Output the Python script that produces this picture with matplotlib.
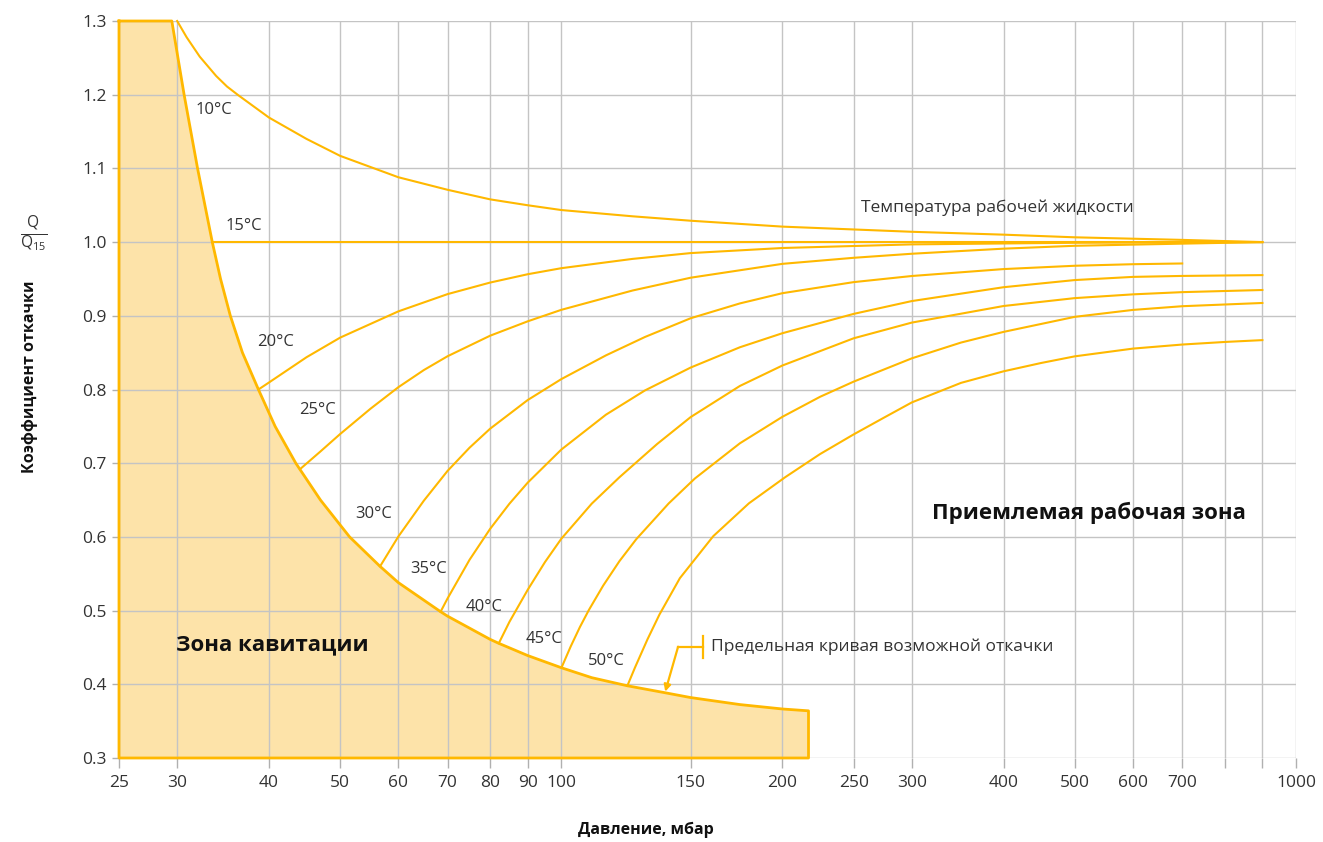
import numpy as np
import matplotlib.pyplot as plt

plt.rcParams['font.family'] = ['Open Sans', 'DejaVu Sans']
plt.rcParams['mathtext.fontset'] = 'custom'
plt.rcParams['mathtext.rm'] = 'Open Sans'
plt.rcParams['mathtext.it'] = 'Open Sans'

# x ticks (pressure, mbar)
xticks = [25, 30, 40, 50, 60, 70, 80, 90, 100, 150, 200, 250, 300, 400, 500, 600, 700, 800, 900, 1000]
xlabels = ['25', '30', '40', '50', '60', '70', '80', '90', '100', '150', '200', '250', '300',
           '400', '500', '600', '700', '', '', '1000']
yticks = [0.3, 0.4, 0.5, 0.6, 0.7, 0.8, 0.9, 1.0, 1.1, 1.2, 1.3]

# limit curve (cavitation boundary)
lim_x = [29.5, 30.66, 31.98, 33.49, 34.37, 35.44, 36.81, 38.7, 40.78, 43.51, 47.01, 51.5, 56.66,
         60, 68.5, 70, 80, 82.2, 90, 100, 110, 123, 138.5, 150, 175, 200, 217]
lim_y = [1.3, 1.2, 1.1, 1.0, 0.95, 0.9, 0.85, 0.8, 0.75, 0.7, 0.65, 0.6, 0.56, 0.538, 0.4985,
         0.4925, 0.461, 0.4556, 0.439, 0.4225, 0.409, 0.398, 0.3885, 0.382, 0.3725, 0.3665, 0.364]

# temperature curves
t10_x = [30, 30.9, 32.2, 33.9, 35.07, 36.3, 40, 45, 50, 60, 70, 80, 90, 100, 125, 150, 200, 300,
         400, 500, 700, 900]
t10_y = [1.3, 1.278, 1.2516, 1.2254, 1.2111, 1.1996, 1.169, 1.14, 1.117, 1.088, 1.071, 1.058,
         1.05, 1.0435, 1.035, 1.029, 1.021, 1.014, 1.0101, 1.0065, 1.003, 1.0]
t15_x = [33.49, 900]
t15_y = [1.0, 1.0]
t20_x = [38.7, 40, 45, 50, 60, 70, 80, 90, 100, 125, 150, 200, 300, 500, 900]
t20_y = [0.80, 0.8095, 0.8438, 0.8704, 0.906, 0.9294, 0.9451, 0.9564, 0.9646, 0.9772, 0.9851,
         0.992, 0.9969, 0.9991, 1.0]
t25_x = [44.1, 47, 50, 55, 60, 65, 70, 80, 90, 100, 125, 150, 200, 250, 300, 400, 500, 700, 900]
t25_y = [0.692, 0.7159, 0.7396, 0.774, 0.8031, 0.8264, 0.8451, 0.873, 0.8925, 0.9081, 0.9343,
         0.9517, 0.9705, 0.9787, 0.9842, 0.9911, 0.995, 0.9979, 1.0]
t30_x = [56.66, 60, 65, 70, 75, 80, 90, 100, 115, 130, 150, 175, 200, 250, 300, 400, 500, 600, 700]
t30_y = [0.560, 0.6005, 0.6492, 0.6895, 0.721, 0.7468, 0.7857, 0.8141, 0.8463, 0.8713, 0.8967,
         0.9168, 0.9307, 0.9457, 0.954, 0.9634, 0.9679, 0.970, 0.971]
t35_x = [68.5, 70, 75, 80, 85, 90, 100, 115, 130, 150, 175, 200, 250, 300, 400, 500, 600, 700, 900]
t35_y = [0.4985, 0.5164, 0.5689, 0.6109, 0.6451, 0.6736, 0.7185, 0.7658, 0.7988, 0.8298, 0.8573,
         0.8764, 0.9026, 0.92, 0.9388, 0.9485, 0.9528, 0.9541, 0.9552]
t40_x = [82.2, 85, 90, 95, 100, 110, 120, 135, 150, 175, 200, 250, 300, 400, 500, 600, 700, 900]
t40_y = [0.4556, 0.4848, 0.5282, 0.5658, 0.5975, 0.6451, 0.681, 0.726, 0.7626, 0.8048, 0.8326,
         0.8695, 0.8908, 0.9133, 0.924, 0.9291, 0.9321, 0.935]
t45_x = [100.1, 103, 106, 109, 114, 120, 126.5, 140, 152, 175, 200, 225, 250, 300, 350, 400, 500,
         600, 700, 900]
t45_y = [0.423, 0.4515, 0.4777, 0.5007, 0.5338, 0.5672, 0.597, 0.6454, 0.6793, 0.727, 0.763,
         0.7901, 0.8107, 0.8423, 0.8637, 0.8782, 0.8986, 0.908, 0.913, 0.9174]
t50_x = [123, 126, 131, 136, 145, 161, 180, 201.7, 225, 250, 275, 300, 350, 400, 450, 500, 600,
         700, 800, 900]
t50_y = [0.398, 0.423, 0.461, 0.4946, 0.544, 0.601, 0.6455, 0.681, 0.7124, 0.7391, 0.7619,
         0.7825, 0.809, 0.8247, 0.836, 0.845, 0.8555, 0.861, 0.8645, 0.867]

curves = [(t10_x, t10_y), (t15_x, t15_y), (t20_x, t20_y), (t25_x, t25_y), (t30_x, t30_y),
          (t35_x, t35_y), (t40_x, t40_y), (t45_x, t45_y), (t50_x, t50_y)]

temp_labels = ['10°C', '15°C', '20°C', '25°C', '30°C', '35°C', '40°C', '45°C', '50°C']
label_x = [31.8, 34.9, 38.6, 43.9, 52.4, 62.3, 74.2, 89.3, 108.7]
label_y = [1.179, 1.022, 0.864, 0.772, 0.631, 0.5565, 0.505, 0.4614, 0.4316]

gold = '#FFB800'
fill_col = '#FDE3A9'
txt = '#333333'

fig = plt.figure(figsize=(13.23, 8.42), dpi=100)
ax = fig.add_axes([119 / 1323, 1 - 758 / 842, (1296 - 119) / 1323, (758 - 21) / 842])

ax.set_xscale('log')
ax.set_xlim(25, 1000)
ax.set_ylim(0.3, 1.3)

# cavitation zone
poly_x = [25] + lim_x + [lim_x[-1], 25]
poly_y = [1.3] + lim_y + [0.3, 0.3]
ax.fill(poly_x, poly_y, color=fill_col, lw=0, zorder=1)
ax.plot(poly_x + [25], poly_y + [1.3], color=gold, lw=2, zorder=3, clip_on=False,
        solid_joinstyle='round')

for cx, cy in curves:
    ax.plot(cx, cy, color=gold, lw=1.5, zorder=3, clip_on=False, solid_joinstyle='round')

for lab, lx, ly in zip(temp_labels, label_x, label_y):
    ax.text(lx, ly, lab, fontsize=12, color=txt, ha='left', va='center', zorder=4)

ax.text(255.7, 1.0463, 'Температура рабочей жидкости', fontsize=12.5, color=txt,
        ha='left', va='center')
ax.text(320, 0.6324, 'Приемлемая рабочая зона', fontsize=16, fontweight='bold',
        color='#111111', ha='left', va='center')
ax.text(29.9, 0.4533, 'Зона кавитации', fontsize=16, fontweight='bold',
        color='#111111', ha='left', va='center', zorder=4)
ax.text(159.8, 0.4506, 'Предельная кривая возможной откачки', fontsize=12.5, color=txt,
        ha='left', va='center')

# pointer to the limit curve
ax.plot([155.7, 155.7], [0.4355, 0.4655], color=gold, lw=1.6, zorder=3)
ax.annotate('', xy=(138.5, 0.39), xytext=(144.2, 0.451),
            arrowprops=dict(arrowstyle='-|>', color=gold, lw=1.6, mutation_scale=10,
                            shrinkA=0, shrinkB=0), zorder=3)
ax.plot([144.2, 155.7], [0.451, 0.451], color=gold, lw=1.6, zorder=3)

ax.set_xticks(xticks)
ax.set_xticklabels(xlabels)
ax.xaxis.set_minor_locator(plt.NullLocator())
ax.set_yticks(yticks)
ax.set_yticklabels(['%.1f' % v for v in yticks])

ax.set_axisbelow(False)
ax.grid(True, color='#c4c4c4', lw=1, zorder=2.5)
for s in ax.spines.values():
    s.set_visible(False)
ax.tick_params(axis='both', colors='#b0b0b0', labelcolor=txt, labelsize=12.5, width=1)
ax.tick_params(axis='x', length=7, pad=5)
ax.tick_params(axis='y', length=5, pad=4)

fig.text(646 / 1323, 1 - 830 / 842, 'Давление, мбар', fontsize=11.5, fontweight='bold',
         color='#111111', ha='center', va='center')
fig.text(30 / 1323, 1 - 377 / 842, 'Коэффициент откачки', rotation=90, fontsize=11.5,
         fontweight='bold', color='#111111', ha='center', va='center')
fig.text(34 / 1323, 1 - 233 / 842, r'$\frac{Q}{Q_{15}}$', fontsize=16, color=txt,
         ha='center', va='center')

fig.savefig('out.png', dpi=100)
